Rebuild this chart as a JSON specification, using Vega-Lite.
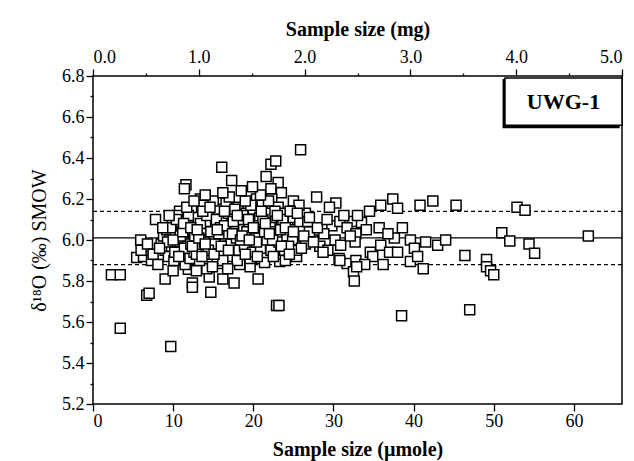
{
  "$schema": "https://vega.github.io/schema/vega-lite/v6.json",
  "width": 529,
  "height": 328,
  "autosize": {"type": "none"},
  "padding": {"left": 93, "top": 76, "right": 12, "bottom": 57},
  "background": "white",
  "config": {
    "view": {"stroke": "black", "strokeWidth": 1.5},
    "font": "Liberation Serif",
    "axis": {
      "domain": false, "grid": false, "tickColor": "black", "tickWidth": 1.3,
      "labelColor": "black", "titleColor": "black",
      "labelFont": "Liberation Serif", "titleFont": "Liberation Serif",
      "labelFontSize": 18, "titleFontSize": 20, "titleFontWeight": "bold"
    }
  },
  "datasets": {
    "pts": [
      {"u":2.3,"d":5.83},{"u":3.4,"d":5.83},{"u":3.4,"d":5.57},{"u":9.7,"d":5.48},{"u":6.7,"d":5.73},{"u":7.0,"d":5.74},
      {"u":9.0,"d":5.81},{"u":12.4,"d":5.79},{"u":12.4,"d":5.77},{"u":14.7,"d":5.745},{"u":14.5,"d":5.82},{"u":16.2,"d":5.81},
      {"u":17.6,"d":5.79},{"u":20.6,"d":5.81},{"u":22.9,"d":5.68},{"u":23.2,"d":5.68},{"u":38.5,"d":5.63},{"u":47.0,"d":5.66},
      {"u":5.45,"d":5.915},{"u":6.3,"d":5.92},{"u":7.3,"d":5.9},{"u":8.1,"d":5.88},{"u":5.95,"d":6.0},{"u":7.8,"d":6.1},
      {"u":10.0,"d":5.85},{"u":11.9,"d":5.857},{"u":14.2,"d":5.86},{"u":16.1,"d":5.885},{"u":18.3,"d":5.88},{"u":19.6,"d":5.87},
      {"u":21.0,"d":5.91},{"u":23.3,"d":5.895},{"u":25.4,"d":5.92},
      {"u":16.06,"d":6.355},{"u":17.3,"d":6.29},{"u":11.6,"d":6.27},{"u":11.4,"d":6.25},{"u":22.2,"d":6.37},{"u":22.8,"d":6.385},
      {"u":21.6,"d":6.31},{"u":13.4,"d":6.2},{"u":10.8,"d":6.14},{"u":25.9,"d":6.44},{"u":23.1,"d":6.28},{"u":22.2,"d":6.25},
      {"u":23.5,"d":6.23},{"u":20.4,"d":6.2},{"u":27.9,"d":6.21},{"u":30.3,"d":6.18},{"u":29.5,"d":6.16},{"u":34.5,"d":6.14},
      {"u":35.9,"d":6.17},{"u":37.4,"d":6.2},{"u":38.0,"d":6.155},{"u":40.8,"d":6.17},{"u":42.4,"d":6.19},{"u":26.5,"d":6.13},
      {"u":25.0,"d":6.19},{"u":25.7,"d":6.17},{"u":45.3,"d":6.17},{"u":52.9,"d":6.16},{"u":53.9,"d":6.145},
      {"u":29.8,"d":6.07},{"u":30.8,"d":6.09},{"u":32.4,"d":6.09},{"u":33.5,"d":6.085},{"u":34.1,"d":6.05},{"u":35.7,"d":6.06},
      {"u":31.7,"d":6.06},{"u":32.8,"d":6.03},{"u":27.4,"d":6.0},{"u":28.3,"d":5.97},{"u":30.2,"d":6.0},{"u":30.9,"d":5.975},
      {"u":32.7,"d":5.99},{"u":32.1,"d":6.02},{"u":34.6,"d":5.94},{"u":34.9,"d":5.92},{"u":35.9,"d":5.975},{"u":37.0,"d":5.94},
      {"u":37.6,"d":6.01},{"u":38.0,"d":5.94},{"u":39.6,"d":6.0},{"u":40.1,"d":5.96},{"u":43.0,"d":5.975},{"u":30.7,"d":5.91},
      {"u":31.7,"d":5.885},{"u":32.8,"d":5.9},{"u":33.9,"d":5.88},{"u":39.6,"d":5.895},{"u":41.2,"d":5.86},{"u":30.8,"d":5.9},
      {"u":32.5,"d":5.845},{"u":32.6,"d":5.8},{"u":32.9,"d":5.87},{"u":51.0,"d":6.035},{"u":52.0,"d":5.995},{"u":54.4,"d":5.98},
      {"u":55.1,"d":5.935},{"u":61.8,"d":6.02},{"u":46.4,"d":5.925},{"u":49.1,"d":5.905},{"u":49.1,"d":5.87},{"u":49.6,"d":5.85},
      {"u":50.0,"d":5.83},{"u":36.2,"d":5.88},{"u":28.8,"d":6.03},{"u":29.3,"d":5.95},{"u":31.3,"d":6.12},{"u":33.0,"d":6.12},
      {"u":36.8,"d":6.03},{"u":38.6,"d":6.06},{"u":41.5,"d":5.99},{"u":44.0,"d":6.0},{"u":40.5,"d":5.92},
      {"u":8.5,"d":5.98},{"u":8.8,"d":6.02},{"u":9.0,"d":5.95},{"u":9.2,"d":6.05},{"u":9.4,"d":5.92},{"u":9.6,"d":6.0},
      {"u":9.8,"d":5.97},{"u":9.9,"d":6.08},{"u":10.1,"d":5.9},{"u":10.3,"d":6.03},{"u":10.5,"d":5.96},{"u":10.6,"d":6.12},
      {"u":10.8,"d":5.99},{"u":11.0,"d":6.06},{"u":11.1,"d":5.93},{"u":11.3,"d":6.01},{"u":11.5,"d":5.88},{"u":11.6,"d":6.09},
      {"u":11.8,"d":5.97},{"u":12.0,"d":6.04},{"u":12.1,"d":5.91},{"u":12.3,"d":6.15},{"u":12.5,"d":6.0},{"u":12.6,"d":5.94},
      {"u":12.8,"d":6.07},{"u":13.0,"d":5.98},{"u":13.1,"d":6.11},{"u":13.3,"d":5.9},{"u":13.5,"d":6.03},{"u":13.6,"d":5.96},
      {"u":13.8,"d":6.17},{"u":14.0,"d":6.05},{"u":14.1,"d":5.93},{"u":14.3,"d":6.0},{"u":14.5,"d":6.09},{"u":14.6,"d":5.97},
      {"u":14.8,"d":6.13},{"u":15.0,"d":5.95},{"u":15.1,"d":6.02},{"u":15.3,"d":6.07},{"u":15.5,"d":5.9},{"u":15.6,"d":6.15},
      {"u":15.8,"d":5.99},{"u":16.0,"d":6.04},{"u":16.1,"d":6.1},{"u":16.3,"d":5.94},{"u":16.5,"d":6.01},{"u":16.6,"d":6.18},
      {"u":16.8,"d":5.97},{"u":17.0,"d":6.06},{"u":17.1,"d":5.92},{"u":17.3,"d":6.12},{"u":17.5,"d":6.0},{"u":17.6,"d":5.95},
      {"u":17.8,"d":6.08},{"u":18.0,"d":6.03},{"u":18.1,"d":6.16},{"u":18.3,"d":5.98},{"u":18.5,"d":6.1},{"u":18.6,"d":5.93},
      {"u":18.8,"d":6.05},{"u":19.0,"d":6.0},{"u":19.1,"d":6.13},{"u":19.3,"d":5.96},{"u":19.5,"d":6.07},{"u":19.6,"d":5.91},
      {"u":19.8,"d":6.02},{"u":20.0,"d":6.15},{"u":20.1,"d":5.97},{"u":20.3,"d":6.09},{"u":20.5,"d":6.04},{"u":20.6,"d":5.94},
      {"u":20.8,"d":6.11},{"u":21.0,"d":5.99},{"u":21.1,"d":6.17},{"u":21.3,"d":6.06},{"u":21.5,"d":5.92},{"u":21.6,"d":6.02},
      {"u":21.8,"d":6.13},{"u":22.0,"d":5.97},{"u":22.1,"d":6.08},{"u":22.3,"d":6.2},{"u":22.5,"d":6.04},{"u":22.6,"d":5.95},
      {"u":22.8,"d":6.11},{"u":23.0,"d":6.0},{"u":23.1,"d":6.16},{"u":23.3,"d":5.93},{"u":23.5,"d":6.07},{"u":23.6,"d":6.02},
      {"u":23.8,"d":6.13},{"u":24.0,"d":5.98},{"u":24.3,"d":6.09},{"u":24.5,"d":6.05},{"u":24.8,"d":5.96},{"u":25.0,"d":6.11},
      {"u":25.3,"d":6.02},{"u":25.6,"d":5.99},{"u":26.0,"d":6.06},{"u":26.5,"d":5.98},{"u":27.0,"d":6.04},
      {"u":9.3,"d":5.99},{"u":9.7,"d":6.06},{"u":10.2,"d":5.94},{"u":10.4,"d":6.1},{"u":10.9,"d":6.02},{"u":11.4,"d":5.96},
      {"u":11.9,"d":6.12},{"u":12.2,"d":5.98},{"u":12.7,"d":6.02},{"u":12.9,"d":5.93},{"u":13.4,"d":6.08},{"u":13.9,"d":5.99},
      {"u":14.2,"d":6.12},{"u":14.7,"d":6.04},{"u":15.2,"d":5.98},{"u":15.4,"d":6.1},{"u":15.9,"d":6.06},{"u":16.2,"d":5.9},
      {"u":16.7,"d":6.03},{"u":16.9,"d":6.13},{"u":17.2,"d":5.98},{"u":17.7,"d":6.15},{"u":17.9,"d":6.01},{"u":18.2,"d":5.95},
      {"u":18.7,"d":6.12},{"u":18.9,"d":5.97},{"u":19.2,"d":6.04},{"u":19.7,"d":6.17},{"u":19.9,"d":5.94},{"u":20.2,"d":6.01},
      {"u":20.7,"d":6.07},{"u":20.9,"d":5.96},{"u":21.2,"d":6.1},{"u":21.7,"d":6.0},{"u":21.9,"d":6.19},{"u":22.2,"d":5.95},
      {"u":22.7,"d":6.14},{"u":22.9,"d":6.03},{"u":23.2,"d":5.99},{"u":23.7,"d":6.1},{"u":23.9,"d":5.95},{"u":24.2,"d":6.02},
      {"u":24.6,"d":6.14},{"u":24.9,"d":6.0},{"u":25.4,"d":5.95},{"u":25.8,"d":6.09},{"u":26.3,"d":6.02},{"u":26.8,"d":6.09},
      {"u":27.5,"d":5.99},
      {"u":10.0,"d":6.0},{"u":11.2,"d":6.04},{"u":12.4,"d":5.97},{"u":13.2,"d":6.01},{"u":14.4,"d":5.95},{"u":15.7,"d":6.03},
      {"u":16.4,"d":6.07},{"u":17.4,"d":6.03},{"u":18.4,"d":6.0},{"u":19.4,"d":6.1},{"u":20.4,"d":5.99},{"u":21.4,"d":6.04},
      {"u":22.4,"d":6.0},{"u":23.4,"d":6.05},{"u":24.4,"d":5.97},{"u":13.7,"d":6.14},{"u":15.0,"d":6.19},{"u":17.0,"d":6.21},
      {"u":19.0,"d":6.19},{"u":20.9,"d":6.22},{"u":11.7,"d":6.16},{"u":14.9,"d":5.87},{"u":18.0,"d":5.9},{"u":21.4,"d":5.89},
      {"u":24.0,"d":5.9},{"u":12.9,"d":5.85},{"u":16.8,"d":5.86},
      {"u":6.0,"d":5.95},{"u":6.8,"d":5.98},{"u":7.5,"d":5.93},{"u":8.3,"d":5.96},{"u":8.7,"d":6.06},{"u":9.5,"d":6.12},
      {"u":10.7,"d":5.92},{"u":11.3,"d":6.08},{"u":12.2,"d":6.06},{"u":12.6,"d":6.19},{"u":13.0,"d":6.05},{"u":13.6,"d":5.92},
      {"u":14.0,"d":5.98},{"u":14.6,"d":6.16},{"u":15.1,"d":5.93},{"u":15.5,"d":6.05},{"u":16.0,"d":5.97},{"u":16.4,"d":6.14},
      {"u":16.9,"d":5.95},{"u":17.5,"d":6.09},{"u":18.0,"d":6.12},{"u":18.6,"d":6.02},{"u":19.0,"d":5.93},{"u":19.5,"d":6.0},
      {"u":20.0,"d":6.06},{"u":20.5,"d":5.92},{"u":21.0,"d":6.14},{"u":21.5,"d":6.08},{"u":22.0,"d":6.03},{"u":22.5,"d":5.92},
      {"u":23.0,"d":6.12},{"u":23.5,"d":5.97},{"u":24.0,"d":6.06},{"u":24.5,"d":5.93},{"u":25.0,"d":6.04},{"u":25.5,"d":6.13},
      {"u":26.0,"d":5.96},{"u":27.0,"d":6.11},{"u":28.0,"d":6.06},{"u":28.7,"d":5.94},{"u":29.2,"d":6.1},{"u":14.0,"d":6.22},
      {"u":18.5,"d":6.24},{"u":16.2,"d":6.23},{"u":19.9,"d":6.26}
    ],
    "lines": [{"v":6.01,"s":"m"},{"v":6.14,"s":"sd"},{"v":5.88,"s":"sd"}]
  },
  "resolve": {"scale": {"x": "independent"}, "axis": {"x": "independent", "y": "independent"}},
  "layer": [
    {
      "data": {"name": "lines"},
      "mark": {"type": "rule", "strokeWidth": 1.3, "color": "black"},
      "encoding": {
        "y": {"field": "v", "type": "quantitative", "scale": {"domain": [5.2, 6.8], "nice": false, "zero": false}, "axis": null},
        "strokeDash": {"field": "s", "type": "nominal", "scale": {"domain": ["m", "sd"], "range": [[1, 0], [4, 3]]}, "legend": null}
      }
    },
    {
      "data": {"name": "pts"},
      "mark": {"type": "point", "shape": "square", "size": 100, "filled": true, "fill": "white", "stroke": "black", "strokeWidth": 1.5, "opacity": 1},
      "encoding": {
        "x": {"field": "u", "type": "quantitative", "scale": {"domain": [0, 66], "nice": false, "zero": false},
          "axis": {"orient": "bottom", "values": [0, 10, 20, 30, 40, 50, 60], "title": "Sample size (µmole)", "tickSize": 7, "labelPadding": 1, "titlePadding": 9}},
        "y": {"field": "d", "type": "quantitative", "scale": {"domain": [5.2, 6.8], "nice": false, "zero": false},
          "axis": {"values": [5.2, 5.4, 5.6, 5.8, 6.0, 6.2, 6.4, 6.6, 6.8], "format": ".1f", "title": "δ¹⁸O (‰) SMOW", "titleFontSize": 20, "titleFontWeight": "normal", "tickSize": 7, "labelPadding": 2, "titlePadding": 12}}
      }
    },
    {
      "data": {"values": [{"v": 6.0}]},
      "mark": {"type": "point", "opacity": 0},
      "encoding": {
        "y": {"field": "v", "type": "quantitative", "scale": {"domain": [5.2, 6.8], "nice": false, "zero": false},
          "axis": {"orient": "left", "values": [5.3, 5.5, 5.7, 5.9, 6.1, 6.3, 6.5, 6.7], "labels": false, "title": null, "tickSize": 3}}
      }
    },
    {
      "data": {"values": [{"mg": 0}, {"mg": 5}]},
      "mark": {"type": "point", "opacity": 0},
      "encoding": {
        "x": {"field": "mg", "type": "quantitative", "scale": {"domain": [0, 5], "nice": false, "zero": false},
          "axis": {"orient": "top", "values": [0, 1, 2, 3, 4, 5], "format": ".1f", "title": "Sample size (mg)", "tickSize": 7, "labelPadding": 3, "titlePadding": 9}}
      }
    },
    {
      "data": {"values": [{"mg": 0}, {"mg": 5}]},
      "mark": {"type": "point", "opacity": 0},
      "encoding": {
        "x": {"field": "mg", "type": "quantitative", "scale": {"domain": [0, 5], "nice": false, "zero": false},
          "axis": {"orient": "top", "values": [0.5, 1.5, 2.5, 3.5, 4.5], "labels": false, "title": null, "tickSize": 3}}
      }
    },
    {
      "data": {"values": [{"x1": 51.1, "x2": 65.7, "y1": 6.545, "y2": 6.785}]},
      "mark": {"type": "rect", "fill": "black"},
      "encoding": {
        "x": {"field": "x1", "type": "quantitative", "scale": {"domain": [0, 66], "nice": false, "zero": false}, "axis": null},
        "x2": {"field": "x2"},
        "y": {"field": "y1", "type": "quantitative", "scale": {"domain": [5.2, 6.8], "nice": false, "zero": false}, "axis": null},
        "y2": {"field": "y2"}
      }
    },
    {
      "data": {"values": [{"x1": 51.4, "x2": 66, "y1": 6.56, "y2": 6.79}]},
      "mark": {"type": "rect", "fill": "white", "stroke": "black", "strokeWidth": 1.5},
      "encoding": {
        "x": {"field": "x1", "type": "quantitative", "scale": {"domain": [0, 66], "nice": false, "zero": false}, "axis": null},
        "x2": {"field": "x2"},
        "y": {"field": "y1", "type": "quantitative", "scale": {"domain": [5.2, 6.8], "nice": false, "zero": false}, "axis": null},
        "y2": {"field": "y2"}
      }
    },
    {
      "data": {"values": [{"u": 58.7, "d": 6.675, "t": "UWG-1"}]},
      "mark": {"type": "text", "font": "Liberation Serif", "fontWeight": "bold", "fontSize": 22, "color": "black", "align": "center", "baseline": "middle"},
      "encoding": {
        "x": {"field": "u", "type": "quantitative", "scale": {"domain": [0, 66], "nice": false, "zero": false}, "axis": null},
        "y": {"field": "d", "type": "quantitative", "scale": {"domain": [5.2, 6.8], "nice": false, "zero": false}, "axis": null},
        "text": {"field": "t"}
      }
    }
  ]
}
